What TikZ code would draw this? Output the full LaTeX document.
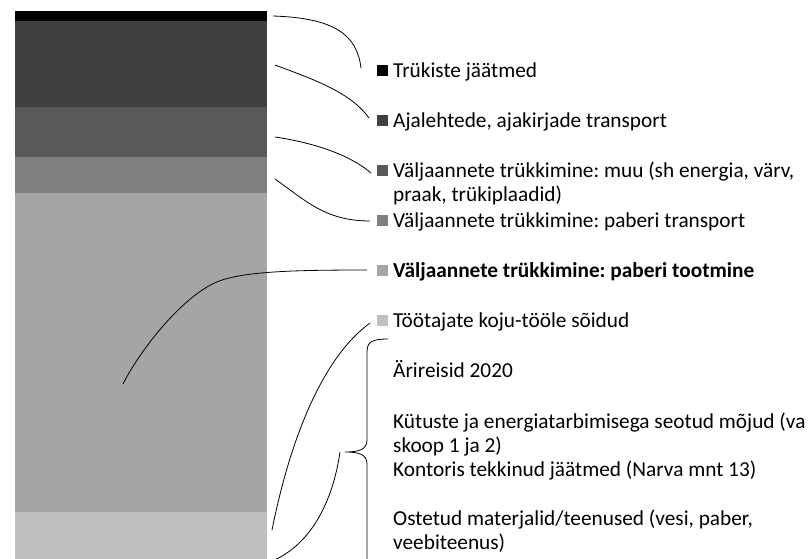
\documentclass[tikz,border=0pt]{standalone}
\usepackage{fontspec}
\setmainfont{Carlito}
\frenchspacing
\definecolor{gA}{HTML}{000000}
\definecolor{gB}{HTML}{404040}
\definecolor{gC}{HTML}{595959}
\definecolor{gD}{HTML}{7F7F7F}
\definecolor{gE}{HTML}{A5A5A5}
\definecolor{gF}{HTML}{BFBFBF}
\begin{document}
\begin{tikzpicture}[x=1pt,y=-1pt,
  lbl/.style={anchor=base west, inner sep=0pt, font=\fontsize{21.3}{24}\selectfont},
  sq/.style={minimum size=11pt, inner sep=0pt, draw=none, anchor=south west},
  conn/.style={draw=black, line width=0.8pt}]
\useasboundingbox (0,0) rectangle (811,558);
\clip (0,0) rectangle (811,558);
% stacked bar
\fill[gA] (15,11) rectangle (267,21);
\fill[gB] (15,21) rectangle (267,107);
\fill[gC] (15,107) rectangle (267,157);
\fill[gD] (15,157) rectangle (267,193);
\fill[gE] (15,193) rectangle (267,512);
\fill[gF] (15,512) rectangle (267,570);
% legend squares
\node[sq, fill=gA] (s1) at (377,76.5) {};
\node[sq, fill=gB] (s2) at (377,126.5) {};
\node[sq, fill=gC] (s3) at (377,176.5) {};
\node[sq, fill=gD] (s4) at (377,226.5) {};
\node[sq, fill=gE] (s5) at (377,276.5) {};
\node[sq, fill=gF] (s6) at (377,326.5) {};
% labels
\node[lbl] (l1) at (393,77) {Trükiste jäätmed};
\node[lbl] (l2) at (393,127) {Ajalehtede, ajakirjade transport};
\node[lbl] (l3a) at (393,177) {Väljaannete trükkimine: muu (sh energia, värv,};
\node[lbl] (l3b) at (393,201) {praak, trükiplaadid)};
\node[lbl] (l4) at (393,227) {Väljaannete trükkimine: paberi transport};
\node[lbl, font=\fontsize{21.3}{24}\selectfont\bfseries] (l5) at (393,277) {Väljaannete trükkimine: paberi tootmine};
\node[lbl] (l6) at (393,327) {Töötajate koju-tööle sõidud};
\node[lbl] (l7) at (393,377) {Ärireisid 2020};
\node[lbl] (l8a) at (393,428) {Kütuste ja energiatarbimisega seotud mõjud (va};
\node[lbl] (l8b) at (393,452) {skoop 1 ja 2)};
\node[lbl] (l9) at (393,476) {Kontoris tekkinud jäätmed (Narva mnt 13)};
\node[lbl] (l10a) at (393,525) {Ostetud materjalid/teenused (vesi, paber,};
\node[lbl] (l10b) at (393,549) {veebiteenus)};
% connector end points
\coordinate (a1) at (273,16);   \coordinate (b1) at (361,68);
\coordinate (a2) at (275,65);   \coordinate (b2) at (369,118);
\coordinate (a3) at (275,137);  \coordinate (b3) at (371,173);
\coordinate (a4) at (275,179);  \coordinate (b4) at (370,221);
\coordinate (a5) at (123,384);  \coordinate (m5) at (222,280); \coordinate (b5) at (367,270);
\coordinate (a6) at (272,530);  \coordinate (b6) at (370,323);
\coordinate (a7) at (270,562);  \coordinate (b7) at (340,452);
% connectors
\draw[conn] (a1) .. controls (335,18) and (357,35) .. (b1);
\draw[conn] (a2) .. controls (315,80) and (350,92) .. (b2);
\draw[conn] (a3) .. controls (315,143) and (350,155) .. (b3);
\draw[conn] (a4) .. controls (305,200) and (325,221) .. (b4);
\draw[conn] (a5) .. controls (140,350) and (185,292) .. (m5) .. controls (250,271) and (300,270) .. (b5);
\draw[conn] (a6) .. controls (290,440) and (322,358) .. (b6);
\draw[conn] (a7) .. controls (312,545) and (333,500) .. (b7);
% brace
\coordinate (bt) at (388,339);
\coordinate (btip) at (345,452);
\draw[conn] (bt) .. controls (372,339) and (367,342) .. (367,352) -- (367,440)
  .. controls (367,450) and (358,452) .. (btip)
  .. controls (358,452) and (367,454) .. (367,464) -- (367,575);
\end{tikzpicture}
\end{document}
